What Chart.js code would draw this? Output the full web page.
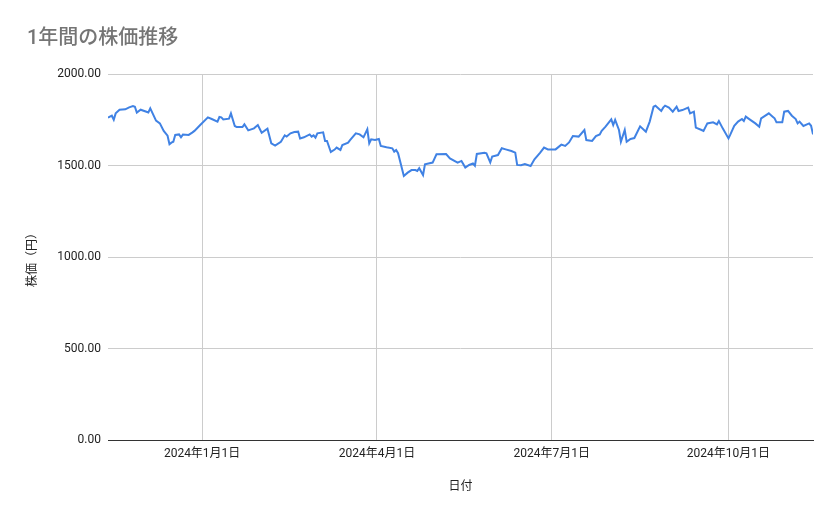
<!DOCTYPE html>
<html>
<head>
<meta charset="utf-8">
<script src="https://cdn.jsdelivr.net/npm/chart.js@4"></script>
<style>
  html, body { margin: 0; padding: 0; background: #ffffff; }
  #wrap { position: relative; width: 839px; height: 519px; }
</style>
</head>
<body>
<div id="wrap"><canvas id="c"></canvas></div>
<script>
const chartTitle = '1年間の株価推移';
const xTitle = '日付';
const yTitle = '株価（円）';
const xTickDates = ['2024-01-01', '2024-04-01', '2024-07-01', '2024-10-01'];
const yTickValues = [0, 500, 1000, 1500, 2000];

const dates = [
  '2023-11-13','2023-11-15','2023-11-16','2023-11-17','2023-11-19','2023-11-22','2023-11-24','2023-11-26','2023-11-27','2023-11-28',
  '2023-11-30','2023-12-03','2023-12-04','2023-12-05','2023-12-08','2023-12-10','2023-12-12','2023-12-14','2023-12-15','2023-12-16',
  '2023-12-17','2023-12-18','2023-12-20','2023-12-21','2023-12-22','2023-12-25','2023-12-27','2023-12-28','2023-12-31','2024-01-04',
  '2024-01-06','2024-01-09','2024-01-10','2024-01-11','2024-01-12','2024-01-15','2024-01-16','2024-01-18','2024-01-19','2024-01-22',
  '2024-01-23','2024-01-25','2024-01-28','2024-01-30','2024-02-01','2024-02-04','2024-02-06','2024-02-08','2024-02-11','2024-02-13',
  '2024-02-14','2024-02-16','2024-02-18','2024-02-20','2024-02-21','2024-02-23','2024-02-26','2024-02-27','2024-02-28','2024-02-29',
  '2024-03-01','2024-03-04','2024-03-05','2024-03-06','2024-03-08','2024-03-10','2024-03-11','2024-03-13','2024-03-14','2024-03-17',
  '2024-03-18','2024-03-21','2024-03-23','2024-03-25','2024-03-27','2024-03-28','2024-03-29','2024-03-31','2024-04-02','2024-04-03',
  '2024-04-06','2024-04-09','2024-04-10','2024-04-11','2024-04-12','2024-04-15','2024-04-17','2024-04-19','2024-04-21','2024-04-22',
  '2024-04-23','2024-04-25','2024-04-26','2024-04-30','2024-05-02','2024-05-07','2024-05-09','2024-05-13','2024-05-15','2024-05-17',
  '2024-05-19','2024-05-21','2024-05-22','2024-05-23','2024-05-27','2024-05-28','2024-05-30','2024-05-31','2024-06-03','2024-06-05',
  '2024-06-07','2024-06-10','2024-06-12','2024-06-13','2024-06-15','2024-06-17','2024-06-20','2024-06-22','2024-06-25','2024-06-27',
  '2024-06-29','2024-07-03','2024-07-06','2024-07-08','2024-07-10','2024-07-12','2024-07-15','2024-07-18','2024-07-19','2024-07-22',
  '2024-07-24','2024-07-26','2024-07-27','2024-07-29','2024-08-01','2024-08-02','2024-08-03','2024-08-05','2024-08-06','2024-08-08',
  '2024-08-09','2024-08-11','2024-08-13','2024-08-16','2024-08-19','2024-08-21','2024-08-23','2024-08-24','2024-08-27','2024-08-28',
  '2024-08-29','2024-08-31','2024-09-02','2024-09-04','2024-09-05','2024-09-07','2024-09-10','2024-09-11','2024-09-13','2024-09-14',
  '2024-09-17','2024-09-18','2024-09-20','2024-09-23','2024-09-25','2024-09-26','2024-09-28','2024-10-01','2024-10-02','2024-10-04',
  '2024-10-06','2024-10-08','2024-10-09','2024-10-10','2024-10-12','2024-10-15','2024-10-17','2024-10-18','2024-10-22','2024-10-24',
  '2024-10-25','2024-10-26','2024-10-29','2024-10-30','2024-11-01','2024-11-03','2024-11-05','2024-11-06','2024-11-07','2024-11-09',
  '2024-11-12','2024-11-13','2024-11-14'
];

const prices = [
  1761,1772,1750,1785,1805,1807,1818,1825,1821,1789,
  1805,1794,1790,1812,1745,1730,1689,1663,1616,1625,
  1630,1667,1670,1654,1669,1667,1681,1689,1721,1763,
  1754,1740,1765,1763,1752,1756,1785,1716,1710,1710,
  1725,1692,1703,1721,1679,1701,1621,1609,1630,1665,
  1658,1676,1683,1685,1648,1654,1670,1658,1665,1652,
  1676,1681,1634,1634,1574,1587,1598,1585,1612,1625,
  1639,1676,1670,1654,1698,1621,1643,1639,1645,1607,
  1600,1594,1576,1585,1567,1443,1461,1475,1475,1470,
  1485,1448,1507,1516,1561,1563,1539,1516,1525,1489,
  1503,1511,1499,1563,1570,1567,1517,1549,1557,1594,
  1588,1579,1570,1503,1501,1508,1497,1534,1570,1598,
  1588,1588,1614,1607,1626,1661,1658,1694,1639,1634,
  1661,1670,1690,1712,1752,1721,1749,1694,1630,1694,
  1630,1645,1650,1714,1685,1740,1821,1827,1798,1816,
  1827,1816,1794,1821,1798,1803,1816,1785,1794,1707,
  1694,1689,1730,1736,1725,1743,1703,1648,1670,1717,
  1740,1754,1743,1767,1752,1730,1712,1758,1785,1767,
  1758,1736,1736,1794,1798,1772,1754,1730,1740,1716,
  1730,1717,1670
];

function dayNum(s) {
  const p = s.split('-').map(Number);
  return Date.UTC(p[0], p[1] - 1, p[2]) / 86400000;
}
function fmtDay(d) {
  const dt = new Date(d * 86400000);
  return dt.getUTCFullYear() + '年' + (dt.getUTCMonth() + 1) + '月' + dt.getUTCDate() + '日';
}

const points = dates.map((d, i) => ({ x: dayNum(d), y: prices[i] }));
const xTicks = xTickDates.map(dayNum);

const FONT = "Roboto, 'Noto Sans CJK JP', sans-serif";

const titlePlugin = {
  id: 'sheetTitle',
  afterDraw(chart) {
    const ctx = chart.ctx;
    ctx.save();
    ctx.font = "500 20px Roboto, 'Noto Sans CJK JP', sans-serif";
    ctx.fillStyle = '#757575';
    ctx.textBaseline = 'middle';
    ctx.textAlign = 'left';
    ctx.fillText(chartTitle, 27, 39);
    ctx.restore();
  }
};

new Chart(document.getElementById('c'), {
  type: 'line',
  data: {
    datasets: [{
      data: points,
      borderColor: '#4082e4',
      borderWidth: 2,
      pointRadius: 0,
      pointHoverRadius: 0,
      tension: 0,
      fill: false
    }]
  },
  options: {
    responsive: true,
    maintainAspectRatio: false,
    animation: false,
    layout: { padding: { top: 74, right: 26, bottom: 0, left: 0 } },
    plugins: {
      legend: { display: false },
      tooltip: { enabled: false },
      title: { display: false }
    },
    scales: {
      x: {
        type: 'linear',
        min: dayNum(dates[0]),
        max: dayNum(dates[dates.length - 1]),
        afterBuildTicks(scale) { scale.ticks = xTicks.map(v => ({ value: v })); },
        afterFit(scale) { scale.height = 79; },
        ticks: {
          autoSkip: false,
          maxRotation: 0,
          padding: 7,
          color: '#222222',
          font: { family: FONT, size: 12 },
          callback: (v) => fmtDay(v)
        },
        grid: { color: '#cccccc', lineWidth: 1, drawTicks: false },
        border: { display: true, color: '#333333', width: 1 },
        title: {
          display: true,
          text: xTitle,
          color: '#222222',
          font: { family: FONT, size: 12 },
          padding: { top: 4, bottom: 25 }
        }
      },
      y: {
        type: 'linear',
        min: 0,
        max: 2000,
        afterBuildTicks(scale) { scale.ticks = yTickValues.map(v => ({ value: v })); },
        afterFit(scale) { scale.width = 108; },
        ticks: {
          padding: 7,
          color: '#222222',
          font: { family: FONT, size: 12 },
          callback: (v) => v.toFixed(2)
        },
        grid: { color: '#cccccc', lineWidth: 1, drawTicks: false },
        border: { display: false },
        title: {
          display: true,
          text: yTitle,
          color: '#222222',
          font: { family: FONT, size: 12 },
          padding: { top: 26, bottom: 0 }
        }
      }
    }
  },
  plugins: [titlePlugin]
});
</script>
</body>
</html>
